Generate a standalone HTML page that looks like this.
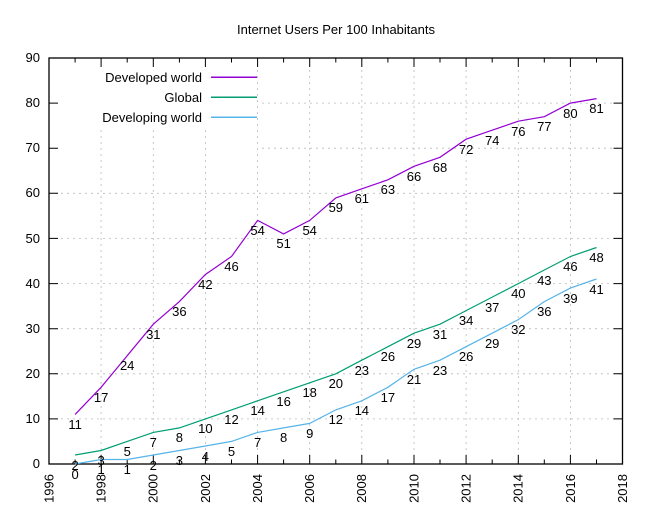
<!DOCTYPE html>
<html><head><meta charset="utf-8"><style>
html,body{margin:0;padding:0;background:#fff;}
svg{display:block;font-family:"Liberation Sans",sans-serif;font-size:13px;}
</style></head><body>
<svg width="650" height="520" viewBox="0 0 650 520">
<rect width="650" height="520" fill="#fff"/>
<text x="336" y="34" text-anchor="middle">Internet Users Per 100 Inhabitants</text>
<!-- grid -->
<g stroke="#bbb" stroke-width="0.8" stroke-dasharray="2,4">
<line x1="49" y1="418.9" x2="622.5" y2="418.9"/>
<line x1="49" y1="373.8" x2="622.5" y2="373.8"/>
<line x1="49" y1="328.7" x2="622.5" y2="328.7"/>
<line x1="49" y1="283.6" x2="622.5" y2="283.6"/>
<line x1="49" y1="238.4" x2="622.5" y2="238.4"/>
<line x1="49" y1="193.3" x2="622.5" y2="193.3"/>
<line x1="262" y1="148.2" x2="622.5" y2="148.2"/>
<line x1="262" y1="103.1" x2="622.5" y2="103.1"/>
<line x1="101.1" y1="130" x2="101.1" y2="464"/>
<line x1="153.3" y1="130" x2="153.3" y2="464"/>
<line x1="205.4" y1="130" x2="205.4" y2="464"/>
<line x1="257.6" y1="58" x2="257.6" y2="464"/>
<line x1="309.7" y1="58" x2="309.7" y2="464"/>
<line x1="361.8" y1="58" x2="361.8" y2="464"/>
<line x1="414" y1="58" x2="414" y2="464"/>
<line x1="466.1" y1="58" x2="466.1" y2="464"/>
<line x1="518.3" y1="58" x2="518.3" y2="464"/>
<line x1="570.4" y1="58" x2="570.4" y2="464"/>
</g>
<!-- ticks -->
<g stroke="#000" stroke-width="1">
<path d="M49 418.9h9M49 373.8h9M49 328.7h9M49 283.6h9M49 238.4h9M49 193.3h9M49 148.2h9M49 103.1h9
M622.5 418.9h-9M622.5 373.8h-9M622.5 328.7h-9M622.5 283.6h-9M622.5 238.4h-9M622.5 193.3h-9M622.5 148.2h-9M622.5 103.1h-9"/>
<path d="M101.1 464v-9M153.3 464v-9M205.4 464v-9M257.6 464v-9M309.7 464v-9M361.8 464v-9M414 464v-9M466.1 464v-9M518.3 464v-9M570.4 464v-9
M75.1 464v-4.5M127.2 464v-4.5M179.4 464v-4.5M231.5 464v-4.5M283.6 464v-4.5M335.8 464v-4.5M387.9 464v-4.5M440 464v-4.5M492.2 464v-4.5M544.3 464v-4.5M596.5 464v-4.5
M101.1 58v9M153.3 58v9M205.4 58v9M257.6 58v9M309.7 58v9M361.8 58v9M414 58v9M466.1 58v9M518.3 58v9M570.4 58v9
M75.1 58v4.5M127.2 58v4.5M179.4 58v4.5M231.5 58v4.5M283.6 58v4.5M335.8 58v4.5M387.9 58v4.5M440 58v4.5M492.2 58v4.5M544.3 58v4.5M596.5 58v4.5"/>
</g>
<rect x="49" y="58" width="573.5" height="406" fill="none" stroke="#000" stroke-width="1.3"/>
<!-- y labels -->
<g text-anchor="end">
<text x="40" y="468">0</text><text x="40" y="423">10</text><text x="40" y="378">20</text>
<text x="40" y="333">30</text><text x="40" y="288">40</text><text x="40" y="243">50</text>
<text x="40" y="197">60</text><text x="40" y="152">70</text><text x="40" y="107">80</text><text x="40" y="62">90</text>
</g>
<!-- x labels rotated -->
<g text-anchor="end">
<text transform="translate(53.5,474) rotate(-90)">1996</text>
<text transform="translate(105.5,474) rotate(-90)">1998</text>
<text transform="translate(157.7,474) rotate(-90)">2000</text>
<text transform="translate(209.8,474) rotate(-90)">2002</text>
<text transform="translate(262,474) rotate(-90)">2004</text>
<text transform="translate(314.1,474) rotate(-90)">2006</text>
<text transform="translate(366.2,474) rotate(-90)">2008</text>
<text transform="translate(418.4,474) rotate(-90)">2010</text>
<text transform="translate(470.5,474) rotate(-90)">2012</text>
<text transform="translate(522.7,474) rotate(-90)">2014</text>
<text transform="translate(574.8,474) rotate(-90)">2016</text>
<text transform="translate(626.9,474) rotate(-90)">2018</text>
</g>
<!-- series -->
<polyline fill="none" stroke="#9400d3" stroke-width="1.2" points="75.1,414.4 101.1,387.3 127.2,355.7 153.3,324.2 179.4,301.6 205.4,274.5 231.5,256.5 257.6,220.4 283.6,233.9 309.7,220.4 335.8,197.9 361.8,188.8 387.9,179.8 414,166.3 440,157.3 466.1,139.2 492.2,130.2 518.3,121.2 544.3,116.7 570.4,103.1 596.5,98.6"/>
<polyline fill="none" stroke="#009e73" stroke-width="1.2" points="75.1,455 101.1,450.5 127.2,441.4 153.3,432.4 179.4,427.9 205.4,418.9 231.5,409.9 257.6,400.8 283.6,391.8 309.7,382.8 335.8,373.8 361.8,360.2 387.9,346.7 414,333.2 440,324.2 466.1,310.6 492.2,297.1 518.3,283.6 544.3,270 570.4,256.5 596.5,247.5"/>
<polyline fill="none" stroke="#56b4e9" stroke-width="1.2" points="75.1,464 101.1,459.5 127.2,459.5 153.3,455 179.4,450.5 205.4,446 231.5,441.4 257.6,432.4 283.6,427.9 309.7,423.4 335.8,409.9 361.8,400.8 387.9,387.3 414,369.3 440,360.2 466.1,346.7 492.2,333.2 518.3,319.6 544.3,301.6 570.4,288.1 596.5,279"/>
<!-- data labels -->
<g text-anchor="middle">
<text x="75.1" y="429">11</text><text x="101.1" y="402">17</text><text x="127.2" y="370">24</text><text x="153.3" y="339">31</text><text x="179.4" y="316">36</text><text x="205.4" y="289">42</text><text x="231.5" y="271">46</text><text x="257.6" y="235">54</text><text x="283.6" y="248">51</text><text x="309.7" y="235">54</text><text x="335.8" y="212">59</text><text x="361.8" y="203">61</text><text x="387.9" y="194">63</text><text x="414" y="181">66</text><text x="440" y="172">68</text><text x="466.1" y="154">72</text><text x="492.2" y="145">74</text><text x="518.3" y="136">76</text><text x="544.3" y="131">77</text><text x="570.4" y="118">80</text><text x="596.5" y="113">81</text>
<text x="75.1" y="470">2</text><text x="101.1" y="465">3</text><text x="127.2" y="456">5</text><text x="153.3" y="447">7</text><text x="179.4" y="442">8</text><text x="205.4" y="433">10</text><text x="231.5" y="424">12</text><text x="257.6" y="415">14</text><text x="283.6" y="406">16</text><text x="309.7" y="397">18</text><text x="335.8" y="388">20</text><text x="361.8" y="375">23</text><text x="387.9" y="361">26</text><text x="414" y="348">29</text><text x="440" y="339">31</text><text x="466.1" y="325">34</text><text x="492.2" y="312">37</text><text x="518.3" y="298">40</text><text x="544.3" y="285">43</text><text x="570.4" y="271">46</text><text x="596.5" y="262">48</text>
<text x="75.1" y="479">0</text><text x="101.1" y="474">1</text><text x="127.2" y="474">1</text><text x="153.3" y="470">2</text><text x="179.4" y="465">3</text><text x="205.4" y="461">4</text><text x="231.5" y="456">5</text><text x="257.6" y="447">7</text><text x="283.6" y="442">8</text><text x="309.7" y="438">9</text><text x="335.8" y="424">12</text><text x="361.8" y="415">14</text><text x="387.9" y="402">17</text><text x="414" y="384">21</text><text x="440" y="375">23</text><text x="466.1" y="361">26</text><text x="492.2" y="348">29</text><text x="518.3" y="334">32</text><text x="544.3" y="316">36</text><text x="570.4" y="303">39</text><text x="596.5" y="294">41</text>
</g>
<!-- legend -->
<g text-anchor="end">
<text x="202" y="82">Developed world</text>
<text x="202" y="102">Global</text>
<text x="202" y="122">Developing world</text>
</g>
<rect x="211" y="76.5" width="46" height="1.5" fill="#9400d3"/>
<rect x="211" y="96.5" width="46" height="1.5" fill="#009e73"/>
<rect x="211" y="116.5" width="46" height="1.5" fill="#56b4e9"/>
</svg>
</body></html>
